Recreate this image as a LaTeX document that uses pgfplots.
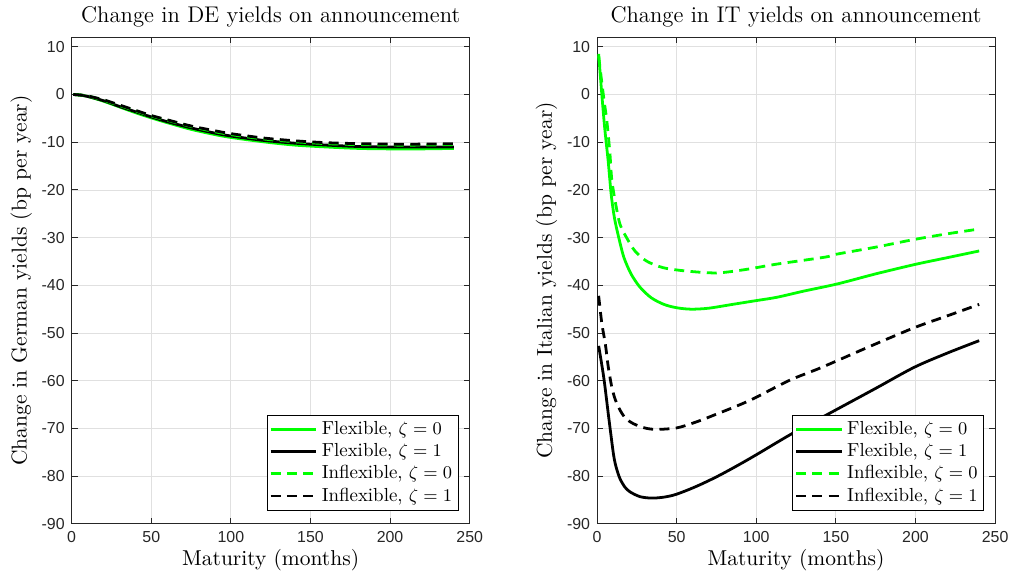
\documentclass[border=0pt]{standalone}
\usepackage{pgfplots}
\pgfplotsset{compat=1.18}
\usepackage{fontspec}
\newfontfamily\ticksf{Liberation Sans}
\definecolor{mgreen}{rgb}{0,1,0}
\definecolor{axgray}{rgb}{0.15,0.15,0.15}

\pgfplotsset{
  yieldstyle/.style={
    width=200pt, height=244.5pt, scale only axis,
    xmin=0, xmax=250, ymin=-90, ymax=12,
    xtick={0,50,...,250}, ytick={-90,-80,...,10},
    grid=major, grid style={draw=black!12, line width=0.4pt},
    axis line style={draw=axgray, line width=0.5pt},
    tick style={draw=axgray, line width=0.5pt},
    major tick length=3pt,
    tick label style={font=\ticksf\fontsize{8}{9}\selectfont, text=axgray},
    /pgf/number format/assume math mode=true,
    title style={font=\fontsize{11.4}{13}\selectfont, yshift=-4.5pt},
    label style={font=\fontsize{10.8}{13}\selectfont},
    ylabel style={yshift=-2pt},
    xlabel={Maturity (months)},
    xlabel style={yshift=3pt},
    legend style={at={(0.972,0.027)}, anchor=south east, draw=black, line width=0.5pt,
      font=\fontsize{9.5}{11}\selectfont, inner sep=1pt, row sep=-1pt,
      cells={anchor=west}},
    legend image code/.code={\draw[#1] (0pt,0pt) -- (23pt,0pt);},
  },
  flex/.style={line width=1.4pt, smooth, tension=0.5},
  inflex/.style={line width=1.4pt, smooth, tension=0.5, dash pattern=on 5pt off 3.2pt},
}

\begin{document}
\begin{tikzpicture}
\path (-36pt,0pt) (471.5pt,0pt);
\begin{axis}[yieldstyle,
  title={Change in DE yields on announcement},
  ylabel={Change in German yields (bp per year)}]
\addplot[flex, mgreen] coordinates {
 (1,0) (5,-0.1) (10,-0.4) (20,-1.4) (30,-2.6) (40,-3.8) (50,-4.9) (60,-5.9)
 (75,-7.3) (90,-8.4) (100,-9.0) (120,-9.9) (140,-10.6) (160,-11.0) (180,-11.3)
 (200,-11.4) (220,-11.4) (240,-11.3)};
\addplot[flex, black] coordinates {
 (1,0) (5,-0.1) (10,-0.4) (20,-1.3) (30,-2.5) (40,-3.6) (50,-4.7) (60,-5.7)
 (75,-7.0) (90,-8.1) (100,-8.7) (120,-9.6) (140,-10.2) (160,-10.6) (180,-10.9)
 (200,-11.0) (220,-11.0) (240,-11.0)};
\addplot[inflex, mgreen] coordinates {
 (1,0) (5,-0.1) (10,-0.3) (20,-1.2) (30,-2.3) (40,-3.4) (50,-4.5) (60,-5.4)
 (75,-6.7) (90,-7.8) (100,-8.4) (120,-9.3) (140,-9.9) (160,-10.3) (180,-10.5)
 (200,-10.6) (220,-10.6) (240,-10.5)};
\addplot[inflex, black] coordinates {
 (1,0) (5,-0.1) (10,-0.3) (20,-1.1) (30,-2.2) (40,-3.3) (50,-4.4) (60,-5.3)
 (75,-6.6) (90,-7.6) (100,-8.2) (120,-9.1) (140,-9.7) (160,-10.1) (180,-10.3)
 (200,-10.4) (220,-10.4) (240,-10.3)};
\legend{{Flexible, $\zeta=0$}, {Flexible, $\zeta=1$}, {Inflexible, $\zeta=0$}, {Inflexible, $\zeta=1$}}
\end{axis}

\begin{axis}[yieldstyle, at={(264pt,0pt)},
  title={Change in IT yields on announcement},
  ylabel={Change in Italian yields (bp per year)}]
\addplot[flex, mgreen] coordinates {
 (1,8.5) (3,0) (4.8,-7) (7,-14) (8.9,-21) (11,-26) (14.2,-30.8) (17,-34.3)
 (21.5,-37.7) (27,-40.4) (34,-42.6) (42,-44) (50,-44.7) (59,-45) (70,-44.8)
 (85,-44) (100,-43.2) (113,-42.5) (130,-41.2) (151,-39.7) (175,-37.6)
 (200,-35.6) (220,-34.2) (240,-32.8)};
\addplot[flex, black] coordinates {
 (1,-52.7) (4.2,-59.3) (7.3,-67.6) (10.4,-75.6) (12.4,-78.6) (14.5,-80.6) (17.5,-82.3) (20.7,-83.3)
 (27,-84.3) (34.2,-84.6) (42,-84.4) (49.8,-83.8) (62,-82.2) (74.7,-80.2)
 (87,-78) (99.6,-75.6) (122.4,-71.1) (147.3,-66.6) (175,-61.6) (199.1,-57.2)
 (220,-54.2) (240,-51.6)};
\addplot[inflex, mgreen] coordinates {
 (1,8) (3,2.5) (4.5,-1.5) (6.2,-5.7) (8,-12) (9.3,-18) (12,-23.5) (14.5,-27.3)
 (18.7,-30.1) (23.8,-32.8) (31,-34.9) (41.5,-36.3) (56,-37) (75,-37.4)
 (93,-36.7) (112,-35.6) (143,-34.1) (150,-33.5) (175,-32) (199,-30.4)
 (220,-29.2) (240,-28.2)};
\addplot[inflex, black] coordinates {
 (1,-42.2) (3,-48) (5.2,-52.3) (7,-57) (9.3,-61.4) (11.5,-64) (14.5,-66.2)
 (18,-67.9) (22.8,-69) (30,-69.9) (37.3,-70.2) (49.8,-69.9) (60,-68.9)
 (70.5,-67.6) (95.4,-64.2) (120.3,-60) (141.1,-57.2) (170,-53) (199.1,-48.9)
 (220,-46.4) (240,-44)};
\legend{{Flexible, $\zeta=0$}, {Flexible, $\zeta=1$}, {Inflexible, $\zeta=0$}, {Inflexible, $\zeta=1$}}
\end{axis}
\end{tikzpicture}
\end{document}
